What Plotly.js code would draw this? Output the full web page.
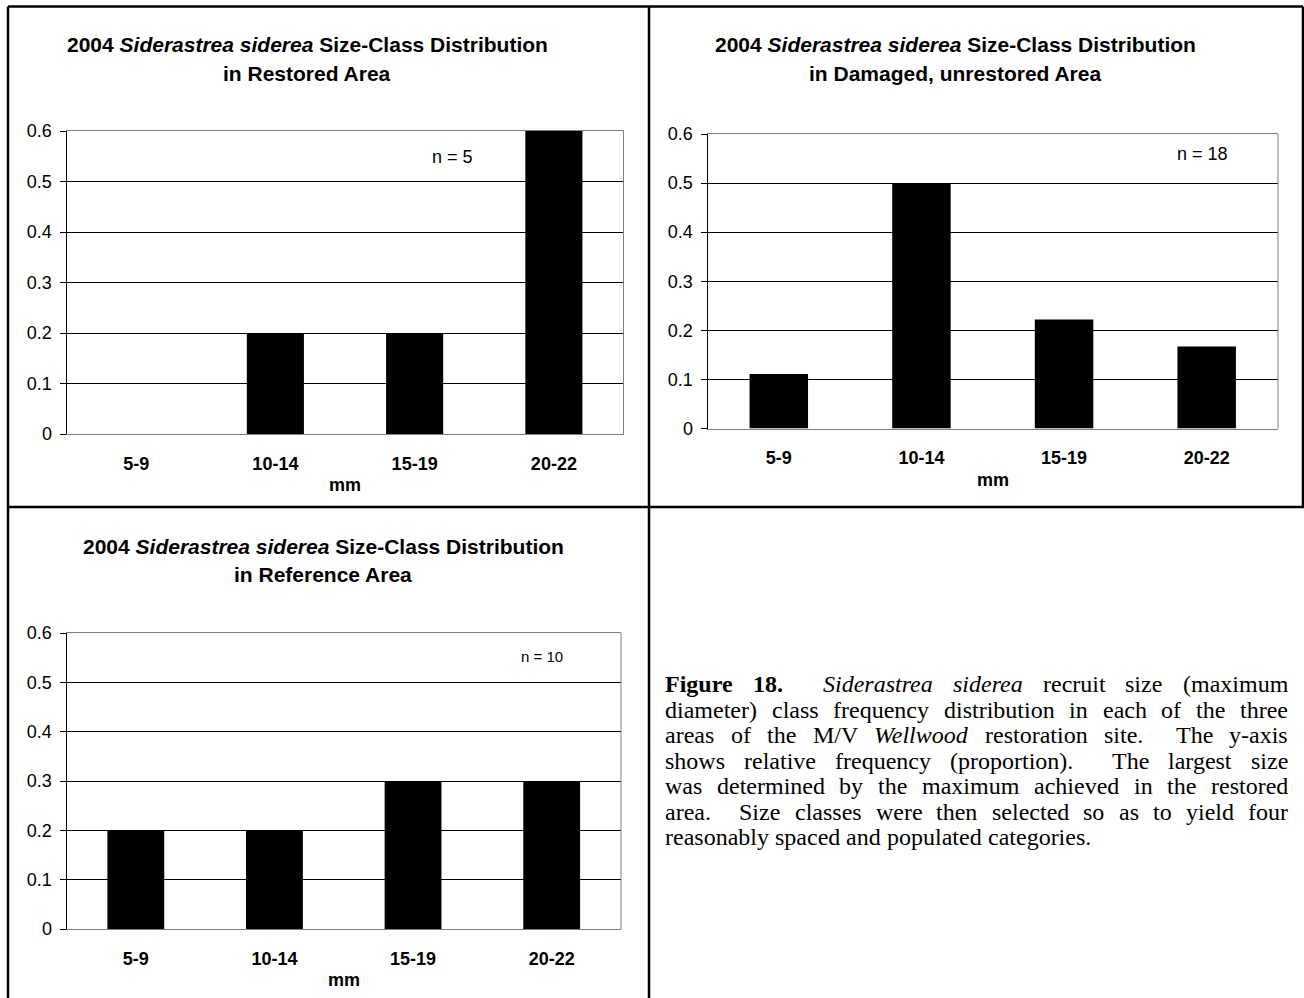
<!DOCTYPE html>
<html><head><meta charset="utf-8">
<script src="https://cdn.plot.ly/plotly-3.0.1.min.js"></script>
<style>html,body{margin:0;padding:0;background:#fff;} #chart{width:1304px;height:998px;}</style>
</head><body><div id="chart"></div>
<script>
// ---- data ----
const sizeClasses = ["5-9", "10-14", "15-19", "20-22"];
const restoredFreq = [0, 0.2, 0.2, 0.6];
const damagedFreq = [0.111, 0.5, 0.222, 0.167];
const referenceFreq = [0.2, 0.2, 0.3, 0.3];
const yTickVals = [0, 0.1, 0.2, 0.3, 0.4, 0.5, 0.6];
const titleLine1 = "2004 <i>Siderastrea siderea</i> Size-Class Distribution";
const titleLine2 = ["in Restored Area", "in Damaged, unrestored Area", "in Reference Area"];
const sampleSizes = ["n = 5", "n = 18", "n = 10"];
const xAxisTitle = "mm";
const captionLines = [
  "**Figure** **18.**  *Siderastrea* *siderea* recruit size (maximum",
  "diameter) class frequency distribution in each of the three",
  "areas of the M/V *Wellwood* restoration site.  The y-axis",
  "shows relative frequency (proportion).  The largest size",
  "was determined by the maximum achieved in the restored",
  "area.  Size classes were then selected so as to yield four",
  "reasonably spaced and populated categories."
];

// ---- layout helpers ----
const W = 1304, H = 998;
const px = v => v / W;
const py = v => 1 - v / H;
const SANS = "Liberation Sans, Arial, sans-serif";
const SERIF = "Liberation Serif, Times New Roman, serif";

const panels = [
  {vals: restoredFreq, x: [66.5, 623.5], y: [131, 434], t1: 44, t2: 73, tx: 307, n: [452, 157, 18], mm: 485},
  {vals: damagedFreq, x: [707.5, 1278], y: [134, 428.5], t1: 44, t2: 73, tx: 955, n: [1202, 154, 18], mm: 480},
  {vals: referenceFreq, x: [66.5, 621], y: [633, 929], t1: 546, t2: 574, tx: 323, n: [542, 656, 15], mm: 980}
];

const traces = [];
const layout = {
  width: W, height: H, margin: {l: 0, r: 0, t: 0, b: 0},
  paper_bgcolor: "#fff", plot_bgcolor: "#fff",
  showlegend: false, annotations: [], shapes: [],
  font: {family: SANS, color: "#000"}
};

panels.forEach((p, i) => {
  const k = i === 0 ? "" : String(i + 1);
  traces.push({
    type: "bar", x: sizeClasses, y: p.vals,
    xaxis: "x" + k, yaxis: "y" + k,
    marker: {color: "#000", line: {width: 0}},
    hoverinfo: "x+y"
  });
  layout["xaxis" + k] = {
    domain: [px(p.x[0]), px(p.x[1])], anchor: "y" + k,
    type: "category", range: [-0.5, 3.5], fixedrange: true,
    showline: true, linecolor: "#808080", linewidth: 1, mirror: true,
    ticks: "", showgrid: false, zeroline: false,
    tickfont: {family: SANS, size: 18, color: "#000", weight: "bold"},
    ticklabelstandoff: 13
  };
  layout["yaxis" + k] = {
    domain: [py(p.y[1]), py(p.y[0])], anchor: "x" + k,
    range: [0, 0.6], tickvals: yTickVals, ticktext: yTickVals.map(v => String(v)),
    fixedrange: true,
    showline: true, linecolor: "#000", linewidth: 1,
    ticks: "outside", ticklen: 6, tickcolor: "#000", tickwidth: 1,
    showgrid: true, gridcolor: "#000", gridwidth: 1, zeroline: false,
    tickfont: {family: SANS, size: 18, color: "#000"},
    ticklabelstandoff: 4
  };
  layout.bargap = 0.59;
  // right plot border (gray)
  layout.shapes.push({type: "line", xref: "x" + k + " domain", yref: "y" + k + " domain",
    x0: 1, x1: 1, y0: 0, y1: 1, line: {color: "#808080", width: 1}});
  // titles
  layout.annotations.push({xref: "paper", yref: "paper", x: px(p.tx), y: py(p.t1),
    xanchor: "center", yanchor: "middle", showarrow: false,
    text: "<b>" + titleLine1 + "</b>", font: {family: SANS, size: 21, color: "#000"}});
  layout.annotations.push({xref: "paper", yref: "paper", x: px(p.tx), y: py(p.t2),
    xanchor: "center", yanchor: "middle", showarrow: false,
    text: "<b>" + titleLine2[i] + "</b>", font: {family: SANS, size: 21, color: "#000"}});
  // sample size
  layout.annotations.push({xref: "paper", yref: "paper", x: px(p.n[0]), y: py(p.n[1]),
    xanchor: "center", yanchor: "middle", showarrow: false,
    text: sampleSizes[i], font: {family: SANS, size: p.n[2], color: "#000"}});
  // x axis title
  layout.annotations.push({xref: "x" + k + " domain", yref: "paper", x: 0.5, y: py(p.mm),
    xanchor: "center", yanchor: "middle", showarrow: false,
    text: "<b>" + xAxisTitle + "</b>", font: {family: SANS, size: 18, color: "#000"}});
});

// frame lines
const frame = [
  [8, 6.5, 1303, 6.5], [8, 6.5, 8, 998], [649, 6.5, 649, 998],
  [8, 507, 1304, 507], [1303, 6.5, 1303, 507]
];
frame.forEach(f => layout.shapes.push({type: "line", xref: "paper", yref: "paper",
  x0: px(f[0]), y0: py(f[1]), x1: px(f[2]), y1: py(f[3]), line: {color: "#000", width: 2.5}}));

// caption, justified
const capLeft = 665, capWidth = 623, capTop = 684, capPitch = 25.5, capSize = 24;
const ctx = document.createElement("canvas").getContext("2d");
function parseTok(tok) {
  if (tok.startsWith("**")) return {t: tok.slice(2, -2), b: true, i: false};
  if (tok.startsWith("*")) return {t: tok.slice(1, -1), b: false, i: true};
  return {t: tok, b: false, i: false};
}
function measure(w) {
  ctx.font = (w.i ? "italic " : "") + (w.b ? "bold " : "") + capSize + "px 'Liberation Serif'";
  return ctx.measureText(w.t).width;
}
captionLines.forEach((line, li) => {
  const parts = line.split(/( +)/);
  const words = [], gaps = [];
  parts.forEach((s, j) => { if (j % 2 === 0) words.push(parseTok(s)); else gaps.push(s.length); });
  words.forEach(w => { w.w = measure(w); });
  const sumW = words.reduce((a, w) => a + w.w, 0);
  const nSp = gaps.reduce((a, g) => a + g, 0);
  const last = li === captionLines.length - 1;
  const spW = last ? measure({t: " ", b: false, i: false}) : (capWidth - sumW) / nSp;
  let x = 0;
  words.forEach((w, j) => {
    let txt = w.t;
    if (w.b) txt = "<b>" + txt + "</b>";
    if (w.i) txt = "<i>" + txt + "</i>";
    layout.annotations.push({xref: "paper", yref: "paper", x: px(capLeft + x), y: py(capTop + li * capPitch),
      xanchor: "left", yanchor: "middle", showarrow: false, borderpad: 0, borderwidth: 0,
      text: txt, font: {family: SERIF, size: capSize, color: "#000"}});
    x += w.w + (j < gaps.length ? gaps[j] * spW : 0);
  });
});

Plotly.newPlot("chart", traces, layout, {displayModeBar: false, staticPlot: true});
</script>
</body></html>
